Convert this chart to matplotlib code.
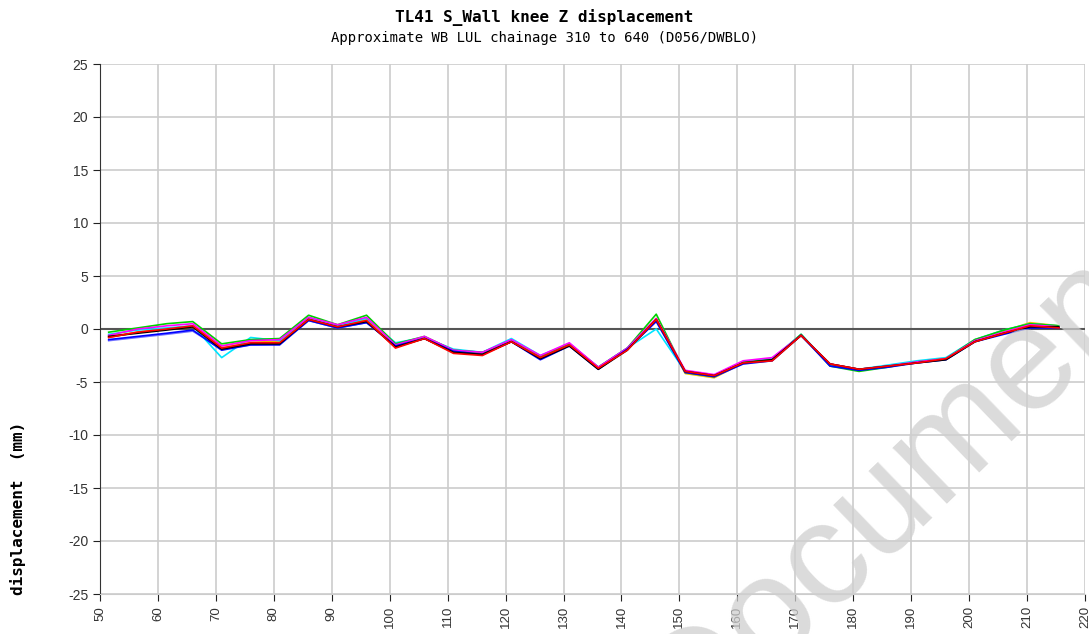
import numpy as np
import matplotlib.pyplot as plt

plt.rcParams['axes.unicode_minus'] = False

# chainage positions (x) of the survey points
x = [51.5, 56.5, 61.5, 66, 71, 76, 81, 86, 91, 96, 101, 106, 111, 116, 121, 126, 131,
     136, 141, 146, 151, 156, 161, 166, 171, 176, 181, 186, 191, 196, 201, 206, 210.5, 215.5]

# one list per survey reading (mm)
blue = [-1.0, -0.7, -0.4, -0.1, -2.0, -1.5, -1.5, 0.8, 0.1, 0.6, -1.6, -0.9, -2.1, -2.4, -1.2, -2.9, -1.6,
        -3.8, -1.9, 0.7, -4.1, -4.5, -3.3, -3.0, -0.6, -3.5, -3.9, -3.6, -3.2, -2.9, -1.2, -0.5, 0.1, 0.1]
red = [-0.8, -0.3, 0.0, 0.3, -1.8, -1.3, -1.3, 0.9, 0.2, 0.8, -1.8, -0.9, -2.3, -2.5, -1.2, -2.7, -1.5,
       -3.7, -2.0, 0.9, -4.0, -4.4, -3.2, -3.0, -0.6, -3.3, -3.8, -3.5, -3.2, -2.8, -1.2, -0.4, 0.3, 0.1]
green = [-0.3, 0.1, 0.5, 0.7, -1.4, -1.0, -0.9, 1.3, 0.4, 1.3, -1.4, -0.7, -2.0, -2.2, -1.1, -2.6, -1.4,
         -3.6, -1.8, 1.4, -4.1, -4.5, -3.1, -2.9, -0.5, -3.5, -4.0, -3.6, -3.1, -2.8, -1.0, -0.1, 0.5, 0.3]
magenta = [-0.6, 0.0, 0.3, 0.5, -1.6, -1.1, -1.0, 1.1, 0.4, 1.1, -1.5, -0.7, -2.0, -2.2, -1.0, -2.5, -1.3,
           -3.6, -1.8, 1.0, -3.9, -4.3, -3.0, -2.7, -0.6, -3.3, -3.8, -3.5, -3.1, -2.8, -1.1, -0.3, 0.4, 0.2]
cyan = [-0.5, -0.1, 0.1, 0.3, -2.7, -0.8, -1.1, 1.1, 0.3, 1.0, -1.3, -0.8, -1.9, -2.2, -0.9, -2.5, -1.4,
        -3.6, -1.8, 0.0, -4.0, -4.4, -3.1, -2.8, -0.5, -3.4, -3.8, -3.4, -3.0, -2.7, -1.0, -0.1, 0.5, 0.3]
gold = [-0.7, -0.3, 0.0, 0.3, -1.6, -1.1, -1.2, 1.0, 0.3, 0.9, -1.6, -0.8, -2.1, -2.3, -1.1, -2.6, -1.5,
        -3.7, -1.9, 1.0, -4.2, -4.6, -3.2, -3.0, -0.6, -3.3, -3.8, -3.5, -3.1, -2.8, -1.0, -0.2, 0.6, 0.3]
black = [-0.7, -0.4, -0.1, 0.2, -1.9, -1.4, -1.4, 0.9, 0.2, 0.7, -1.7, -0.9, -2.2, -2.4, -1.2, -2.8, -1.6,
         -3.8, -2.0, 0.9, -4.0, -4.4, -3.2, -2.9, -0.6, -3.3, -3.8, -3.5, -3.2, -2.9, -1.2, -0.4, 0.2, 0.2]
violet = [-1.1, -0.8, -0.5, -0.2, -1.9, -1.5, -1.4, 0.8, 0.1, 0.6, -1.5, -0.8, -2.0, -2.3, -1.1, -2.8, -1.5,
          -3.7, -1.9, 0.8, -4.1, -4.5, -3.2, -2.9, -0.6, -3.4, -3.9, -3.5, -3.1, -2.8, -1.1, -0.4, 0.2, 0.2]
orange = [-0.8, -0.3, 0.0, 0.2, -1.8, -1.3, -1.3, 0.9, 0.2, 0.8, -1.7, -0.9, -2.2, -2.4, -1.2, -2.7, -1.5,
          -3.7, -1.9, 0.9, -4.1, -4.5, -3.2, -2.9, -0.6, -3.3, -3.8, -3.5, -3.1, -2.8, -1.1, -0.3, 0.4, 0.2]

series = [(violet, '#7070ff'), (gold, '#f0c000'), (orange, '#ff8000'), (cyan, '#00e5ff'),
          (green, '#00d000'), (magenta, '#ff00ff'), (blue, '#0000ff'), (black, '#000000'),
          (red, '#ff0000')]

fig = plt.figure(figsize=(10.89, 6.34), dpi=100)
ax = fig.add_axes([100 / 1089, 40 / 634, 985 / 1089, 530 / 634])

for vals, c in series:
    ax.plot(x, vals, color=c, lw=1.2, zorder=3)

ax.axhline(0, color='#555555', lw=1.5, zorder=2)

ax.set_xlim(50, 220)
ax.set_ylim(-25, 25)
ax.set_xticks(np.arange(50, 221, 10))
ax.set_yticks(np.arange(-25, 26, 5))
ax.grid(True, color='#cccccc', lw=1.2)
ax.set_axisbelow(True)
for s in ['top', 'right']:
    ax.spines[s].set_visible(False)
ax.spines['bottom'].set_color('#cccccc')
ax.spines['left'].set_color('#333333')
ax.tick_params(axis='x', labelrotation=90, labelsize=9.5, length=5, color='#222222', labelcolor='#333333')
ax.tick_params(axis='y', labelsize=10, length=5, color='#222222', labelcolor='#333333')
for lab in ax.get_xticklabels() + ax.get_yticklabels():
    lab.set_family('Liberation Sans')

fig.text(0.5, 1 - 18 / 634, 'TL41 S_Wall knee Z displacement', ha='center', va='center',
         family='DejaVu Sans Mono', weight='bold', fontsize=11.5)
fig.text(0.5, 1 - 38 / 634, 'Approximate WB LUL chainage 310 to 640 (D056/DWBLO)', ha='center',
         va='center', family='DejaVu Sans Mono', fontsize=10)
fig.text(18 / 1089, 1 - 508 / 634, 'displacement  (mm)', rotation=90, ha='center', va='center',
         family='DejaVu Sans Mono', weight='bold', fontsize=11.5)

# watermark
fig.text(905 / 1089, 1 - 480 / 634, 'Document', rotation=44, rotation_mode='anchor',
         color='#cfcfcf', fontsize=106, family='Liberation Sans', alpha=0.75,
         ha='center', va='center', zorder=10)

fig.savefig('out.png', dpi=100)
